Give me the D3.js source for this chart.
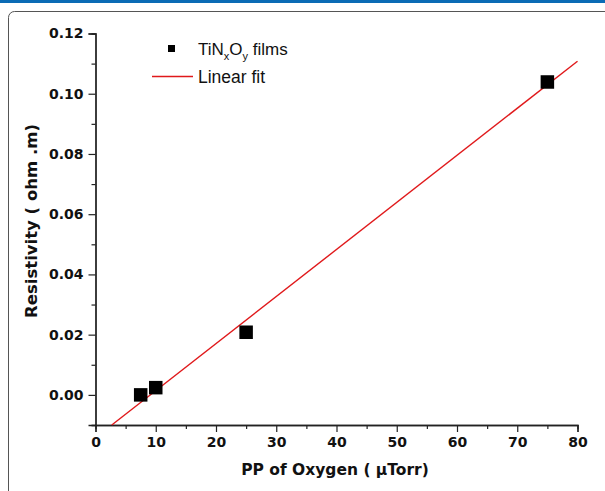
<!DOCTYPE html>
<html><head><meta charset="utf-8">
<script src="https://cdn.jsdelivr.net/npm/d3@7"></script>
<style>body{margin:0;background:#fff;}svg{display:block;}</style>
</head><body>
<script>
const pressure = [7.5, 10, 25, 75];
const resistivity = [0.0000, 0.0024, 0.0208, 0.1039];
const fitX = [2.7, 80];
const fitY = [-0.01, 0.1108];
const xTicks = [0, 10, 20, 30, 40, 50, 60, 70, 80];
const yTicks = [0.00, 0.02, 0.04, 0.06, 0.08, 0.10, 0.12];
const xMinorTicks = [5, 15, 25, 35, 45, 55, 65, 75];
const yMinorTicks = [-0.01, 0.01, 0.03, 0.05, 0.07, 0.09, 0.11];

const W = 605, H = 491;
const svg = d3.select("body").append("svg").attr("width", W).attr("height", H);

// top blue bar and frame
svg.append("rect").attr("x", 0).attr("y", 0).attr("width", W).attr("height", 3).attr("fill", "#0b6bb5");
svg.append("rect").attr("x", 8.5).attr("y", 11.5).attr("width", 640).attr("height", 520)
  .attr("rx", 6).attr("fill", "none").attr("stroke", "#555").attr("stroke-width", 1);

const x = d3.scaleLinear().domain([0, 80]).range([95.5, 577.5]);
const y = d3.scaleLinear().domain([-0.01, 0.12]).range([425, 33.5]);

const fontTick = "'DejaVu Sans', Verdana, sans-serif";

// x axis
const xg = svg.append("g").attr("transform", `translate(0,${y(-0.01)})`);
xg.call(d3.axisBottom(x).tickValues(xTicks).tickSize(7).tickPadding(5).tickFormat(d3.format("d")));
xg.append("g").call(d3.axisBottom(x).tickValues(xMinorTicks).tickSize(4).tickFormat(""));
// y axis
const yg = svg.append("g").attr("transform", `translate(${x(0)},0)`);
yg.call(d3.axisLeft(y).tickValues(yTicks).tickSize(7).tickPadding(5).tickFormat(d3.format(".2f")));
yg.append("g").call(d3.axisLeft(y).tickValues(yMinorTicks).tickSize(4).tickFormat(""));

svg.selectAll(".domain").attr("stroke", "#222").attr("stroke-width", 1.3);
svg.selectAll(".tick line").attr("stroke", "#222").attr("stroke-width", 1.2);
svg.selectAll(".tick text").attr("font-family", fontTick).attr("font-weight", "bold")
  .attr("font-size", 14).attr("fill", "#111");

// fit line
svg.append("line")
  .attr("x1", x(fitX[0])).attr("y1", y(fitY[0]))
  .attr("x2", x(fitX[1])).attr("y2", y(fitY[1]))
  .attr("stroke", "#e0191b").attr("stroke-width", 1.4);

// points
const s = 13.5;
svg.selectAll("rect.pt").data(pressure.map((p, i) => [p, resistivity[i]])).enter()
  .append("rect").attr("class", "pt")
  .attr("x", d => x(d[0]) - s / 2).attr("y", d => y(d[1]) - s / 2)
  .attr("width", s).attr("height", s).attr("fill", "#000");

// legend
const lf = "'Liberation Sans', Arial, sans-serif";
svg.append("rect").attr("x", 168).attr("y", 45).attr("width", 7).attr("height", 7).attr("fill", "#000");
const t1 = svg.append("text").attr("x", 198).attr("y", 55).attr("font-family", lf).attr("font-size", 17).attr("fill", "#111");
t1.append("tspan").text("TiN");
t1.append("tspan").attr("font-size", 11).attr("dy", 5).text("x");
t1.append("tspan").attr("dy", -5).text("O");
t1.append("tspan").attr("font-size", 11).attr("dy", 5).text("y");
t1.append("tspan").attr("dy", -5).text(" films");
svg.append("line").attr("x1", 152).attr("x2", 193).attr("y1", 76.5).attr("y2", 76.5)
  .attr("stroke", "#e0191b").attr("stroke-width", 1.4);
svg.append("text").attr("x", 198).attr("y", 83).attr("font-family", lf).attr("font-size", 17.5)
  .attr("fill", "#111").text("Linear fit");

// axis titles
svg.append("text").attr("x", 335).attr("y", 475).attr("text-anchor", "middle")
  .attr("font-family", fontTick).attr("font-weight", "bold").attr("font-size", 15.5).attr("fill", "#111")
  .text("PP of Oxygen ( μTorr)");
svg.append("text").attr("transform", "translate(37,221) rotate(-90)").attr("text-anchor", "middle")
  .attr("font-family", fontTick).attr("font-weight", "bold").attr("font-size", 16.5).attr("fill", "#111")
  .text("Resistivity ( ohm .m)");
</script>
</body></html>
